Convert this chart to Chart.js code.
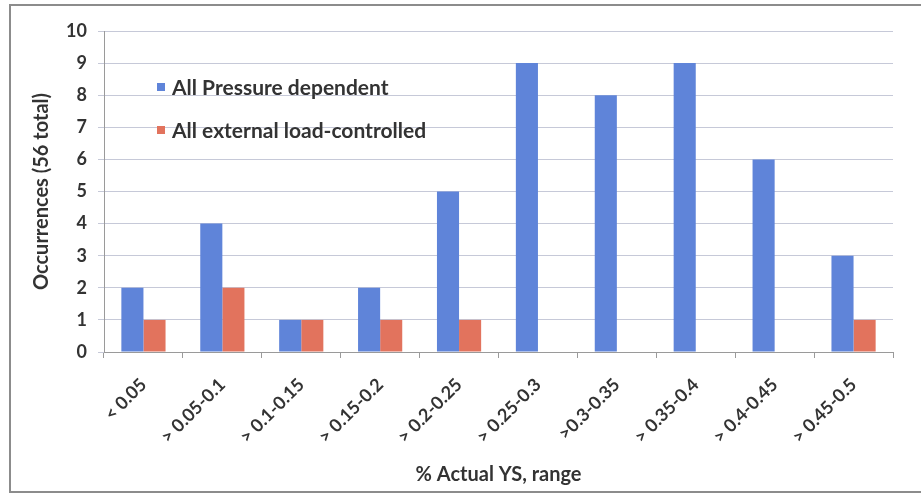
<!DOCTYPE html>
<html>
<head>
<meta charset="utf-8">
<script src="https://cdn.jsdelivr.net/npm/chart.js@4/dist/chart.umd.min.js"></script>
<style>
  html, body { margin: 0; padding: 0; background: #fff; overflow: hidden; }
  #wrap { position: relative; width: 921px; height: 494px; }
  #frame { position: absolute; left: 9px; top: 4px; width: 920px; height: 489px;
           border: 2px solid #8c8c8c; box-sizing: border-box; }
  canvas { position: absolute; left: 0; top: 0; }
</style>
</head>
<body>
<div id="wrap">
  <div id="frame"></div>
  <canvas id="c" width="921" height="494"></canvas>
</div>
<script>
// Ranges of % actual yield strength
const categories = ['< 0.05', '> 0.05-0.1', '> 0.1-0.15', '> 0.15-0.2', '> 0.2-0.25',
                    '> 0.25-0.3', '>0.3-0.35', '> 0.35-0.4', '> 0.4-0.45', '> 0.45-0.5'];
// Occurrences per range (56 in total)
const pressureDependent      = [2, 4, 1, 2, 5, 9, 8, 9, 6, 3];
const externalLoadControlled = [1, 2, 1, 1, 1, 0, 0, 0, 0, 1];
const seriesNames = ['All Pressure dependent', 'All external load-controlled'];
const yMin = 0, yMax = 10, yStep = 1;

const FONT = 'Lato, "Open Sans", sans-serif';
const TEXT = '#333333';

// Legend drawn inside the plot area, upper left
const insideLegend = {
  id: 'insideLegend',
  afterDatasetsDraw(chart) {
    const { ctx, chartArea } = chart;
    ctx.save();
    ctx.font = 'bold 21px ' + FONT;
    ctx.textBaseline = 'middle';
    chart.data.datasets.forEach((ds, i) => {
      const x = chartArea.left + 53;
      const y = chartArea.top + 56 + i * 43;
      ctx.fillStyle = ds.backgroundColor;
      ctx.fillRect(x, y - 4, 8, 8);
      ctx.fillStyle = TEXT;
      ctx.fillText(ds.label, x + 15, y + 1);
    });
    ctx.restore();
  }
};

new Chart(document.getElementById('c'), {
  type: 'bar',
  data: {
    labels: categories,
    datasets: [
      { label: seriesNames[0], data: pressureDependent, backgroundColor: '#5f84d9' },
      { label: seriesNames[1], data: externalLoadControlled, backgroundColor: '#e2735d' }
    ]
  },
  options: {
    responsive: false,
    animation: false,
    devicePixelRatio: 1,
    categoryPercentage: 0.56,
    barPercentage: 1.0,
    layout: { padding: { left: 0, right: 28, top: 31, bottom: 0 } },
    plugins: { legend: { display: false }, tooltip: { enabled: false } },
    scales: {
      x: {
        offset: true,
        grid: { drawOnChartArea: false, drawTicks: true, tickLength: 6, color: '#9a9a9a' },
        border: { display: true, color: '#9a9a9a', width: 1 },
        ticks: { minRotation: 45, maxRotation: 45, autoSkip: false, padding: 16,
                 color: TEXT, font: { family: FONT, size: 18, weight: 'bold' } },
        title: { display: true, text: '% Actual YS, range', color: TEXT,
                 padding: { top: 0, bottom: 7 },
                 font: { family: FONT, size: 20, weight: 'bold' } },
        afterFit(scale) { scale.height = 142; }
      },
      y: {
        min: yMin, max: yMax,
        grid: { color: '#c6c9d8', lineWidth: 1, tickLength: 6, drawTicks: true },
        border: { display: true, color: '#9a9a9a', width: 1 },
        ticks: { stepSize: yStep, padding: 11, color: TEXT,
                 font: { family: FONT, size: 18, weight: 'bold' } },
        title: { display: true, text: 'Occurrences (56 total)', color: TEXT,
                 padding: { top: 30, bottom: 0 },
                 font: { family: FONT, size: 20, weight: 'bold' } },
        afterFit(scale) { scale.width = 104; }
      }
    }
  },
  plugins: [insideLegend]
});
</script>
</body>
</html>
